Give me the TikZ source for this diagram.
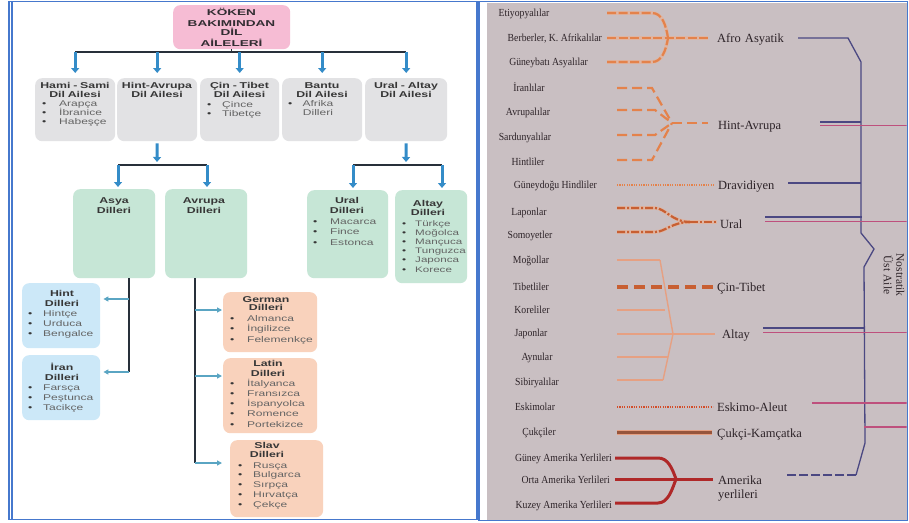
\documentclass[tikz,border=0pt]{standalone}
\usepackage{fontspec}
\setmainfont{Liberation Serif}
\newfontfamily\boxfont[FakeStretch=1.45]{Liberation Sans}
\newfontfamily\rootfont[FakeStretch=1.6]{Liberation Sans}
\newfontfamily\peoplefont[FakeStretch=0.9]{Liberation Serif}
\usetikzlibrary{arrows.meta}
\definecolor{frameblue}{RGB}{70,120,205}
\definecolor{rootpink}{RGB}{246,188,212}
\definecolor{boxgray}{RGB}{226,226,228}
\definecolor{boxgreen}{RGB}{198,230,214}
\definecolor{boxblue}{RGB}{204,232,248}
\definecolor{boxpeach}{RGB}{249,210,188}
\definecolor{arrowblue}{RGB}{52,140,200}
\definecolor{arrowteal}{RGB}{90,165,195}
\definecolor{linedark}{RGB}{40,48,58}
\definecolor{headtext}{RGB}{55,55,55}
\definecolor{rootink}{RGB}{50,45,50}
\definecolor{itemtext}{RGB}{100,100,100}
\definecolor{paper}{RGB}{201,191,194}
\definecolor{ink}{RGB}{45,35,40}
\definecolor{orng}{RGB}{228,130,75}
\definecolor{orngdark}{RGB}{200,95,50}
\definecolor{salmon}{RGB}{230,160,130}
\definecolor{glow}{RGB}{232,178,150}
\definecolor{brownline}{RGB}{150,85,60}
\definecolor{redline}{RGB}{175,40,40}
\definecolor{navyline}{RGB}{75,72,130}
\definecolor{magline}{RGB}{190,80,125}
\newlength\itmw
\setlength\itmw{17pt}
\newcommand\itm{\makebox[\itmw][l]{\textcolor{headtext}{\textbullet}}}
\tikzset{
  framestyle/.style={draw=frameblue, line width=1.1pt},
  panelbox/.style={rounded corners=7pt, inner sep=0pt, anchor=north west},
  rootbox/.style={panelbox, fill=rootpink},
  graybox/.style={panelbox, fill=boxgray},
  greenbox/.style={panelbox, fill=boxgreen},
  bluebox/.style={panelbox, fill=boxblue},
  peachbox/.style={panelbox, fill=boxpeach},
  roottxt/.style={inner sep=0pt, anchor=base, text width=112pt, align=center, text=rootink, font=\rootfont\bfseries\fontsize{8.5}{10}\selectfont},
  headtxt/.style={inner sep=0pt, anchor=base, text width=90pt, align=center, text=headtext, font=\boxfont\bfseries\fontsize{8.5}{9.5}\selectfont},
  itemtxt/.style={inner sep=0pt, anchor=base west, text width=80pt, align=left, text=itemtext, font=\boxfont\fontsize{8.3}{9.6}\selectfont},
  bigarrow/.style={line width=3pt, arrowblue, -{Triangle[width=8pt,length=5pt]}},
  sidearrow/.style={line width=2pt, arrowteal, -{Triangle[width=5pt,length=5pt]}},
  conn/.style={line width=1.3pt, linedark},
  plbl/.style={inner sep=0pt, anchor=base, text=ink, font=\peoplefont\fontsize{10.8}{12}\selectfont},
  plble/.style={plbl, anchor=base east},
  flbl/.style={inner sep=0pt, anchor=base west, text width=90pt, align=left, text=ink, font=\fontsize{12.5}{14}\selectfont},
  glowline/.style={glow, line width=3.6pt, opacity=0.7},
  afroline/.style={orng, line width=2.2pt, dash pattern=on 9pt off 2.5pt},
  hintline/.style={orng, line width=2.2pt, dash pattern=on 10pt off 5pt},
  dotline/.style={orng, line width=1.6pt, dash pattern=on 1.2pt off 1.2pt},
  uralline/.style={orngdark, line width=2.2pt, dash pattern=on 8pt off 2pt on 2pt off 2pt},
  altayline/.style={salmon, line width=1.4pt},
  cinline/.style={orngdark, line width=3.2pt, dash pattern=on 11pt off 6pt},
  eskline/.style={orngdark!80!red, line width=1.6pt, dash pattern=on 1.2pt off 1.2pt},
  cukhalo/.style={salmon, line width=5pt},
  cukline/.style={brownline, line width=3pt},
  amline/.style={redline, line width=3pt},
  navy/.style={navyline, line width=1.3pt},
  magl/.style={magline, line width=1.3pt}
}
\begin{document}
\begin{tikzpicture}[x=1pt,y=-1pt]
\useasboundingbox (0,0) rectangle (909,522);
\fill[white] (0,0) rectangle (909,522);
\fill[paper] (487,2.5) rectangle (906.5,519.5);

% ---------- left panel ----------
\node[rootbox, minimum width=117pt, minimum height=44pt] (root) at (173,5) {};
\node[roottxt] (roottext) at (231.5,16) {KÖKEN\\BAKIMINDAN\\DİL\\AİLELERİ};

\node[graybox, minimum width=80pt, minimum height=63pt] (hs) at (35,78) {};
\node[graybox, minimum width=80pt, minimum height=63pt] (ha) at (117,78) {};
\node[graybox, minimum width=79pt, minimum height=63pt] (ct) at (200,78) {};
\node[graybox, minimum width=80pt, minimum height=63pt] (ba) at (282,78) {};
\node[graybox, minimum width=82pt, minimum height=63pt] (ua) at (365,78) {};

\node[headtxt] (hsh) at (75,88) {Hami - Sami\\Dil Ailesi};
\node[headtxt] (hah) at (157,88) {Hint-Avrupa\\Dil Ailesi};
\node[headtxt] (cth) at (239.5,88) {Çin - Tibet\\Dil Ailesi};
\node[headtxt] (bah) at (322,88) {Bantu\\Dil Ailesi};
\node[headtxt] (uah) at (406,88) {Ural - Altay\\Dil Ailesi};

\node[itemtxt, font=\boxfont\fontsize{8.3}{9.3}\selectfont] (hsi) at (42,106) {\itm Arapça\\\itm İbranice\\\itm Habeşçe};
\node[itemtxt, font=\boxfont\fontsize{8.3}{9}\selectfont] (cti) at (207,107) {\setlength\itmw{15pt}\itm Çince\\\itm Tibetçe};
\node[itemtxt] (bab) at (288,106) {\itm};
\node[headtxt, text=itemtext, font=\boxfont\fontsize{8.3}{9}\selectfont] (bai) at (318,106) {Afrika\\Dilleri};

\coordinate (barL) at (75,52);
\coordinate (barR) at (406,52);
\draw[conn] (root.south) -- (root.south |- barL);
\draw[conn] (barL) -- (barR);
\foreach \b in {hs,ha,ct,ba,ua} \draw[bigarrow, shorten >=5pt] (barL -| \b.north) -- (\b.north);

% level 2
\node[greenbox, minimum width=82pt, minimum height=89pt] (asya) at (73,189) {};
\node[greenbox, minimum width=82pt, minimum height=89pt] (avr) at (165,189) {};
\node[greenbox, minimum width=81pt, minimum height=88pt] (ural) at (307,190) {};
\node[greenbox, minimum width=72pt, minimum height=93pt] (altay) at (395,190) {};

\node[headtxt, font=\boxfont\bfseries\fontsize{8.5}{10}\selectfont] (asyah) at (114,203) {Asya\\Dilleri};
\node[headtxt, font=\boxfont\bfseries\fontsize{8.5}{10}\selectfont] (avrh) at (204,203) {Avrupa\\Dilleri};
\node[headtxt, font=\boxfont\bfseries\fontsize{8.5}{10}\selectfont] (uralh) at (347,203) {Ural\\Dilleri};
\node[headtxt, font=\boxfont\bfseries\fontsize{8.5}{9}\selectfont] (altayh) at (428,206) {Altay\\Dilleri};

\node[itemtxt, font=\boxfont\fontsize{8.3}{10.5}\selectfont] (urali) at (313,224) {\itm Macarca\\\itm Fince\\\itm Estonca};
\node[itemtxt, font=\boxfont\fontsize{8}{9.2}\selectfont] (altayi) at (402,226) {\setlength\itmw{13pt}\itm Türkçe\\\itm Moğolca\\\itm Mançuca\\\itm Tunguzca\\\itm Japonca\\\itm Korece};

\coordinate (hj) at (157,165);
\coordinate (hjL) at (118,165);
\coordinate (hjR) at (207,165);
\draw[bigarrow, shorten >=3pt, shorten <=2pt] (ha.south) -- (hj);
\draw[conn] (hjL) -- (hjR);
\draw[bigarrow, shorten >=2pt] (hjL) -- (hjL |- asya.north);
\draw[bigarrow, shorten >=2pt] (hjR) -- (hjR |- avr.north);

\coordinate (uj) at (406,165);
\coordinate (ujL) at (353,165);
\coordinate (ujR) at (442,165);
\draw[bigarrow, shorten >=3pt, shorten <=2pt] (ua.south) -- (uj);
\draw[conn] (ujL) -- (ujR);
\draw[bigarrow, shorten >=2pt] (ujL) -- (ujL |- ural.north);
\draw[bigarrow, shorten >=2pt] (ujR) -- (ujR |- altay.north);

% level 3 asia
\node[bluebox, minimum width=78pt, minimum height=65pt] (hint) at (22,283) {};
\node[bluebox, minimum width=78pt, minimum height=65pt] (iran) at (22,355) {};
\node[headtxt, font=\boxfont\bfseries\fontsize{8.5}{10}\selectfont] (hinth) at (62,296) {Hint\\Dilleri};
\node[headtxt, font=\boxfont\bfseries\fontsize{8.5}{10}\selectfont] (iranh) at (62,370) {İran\\Dilleri};
\node[itemtxt, font=\boxfont\fontsize{8.3}{10}\selectfont] (hinti) at (28,316) {\setlength\itmw{15pt}\itm Hintçe\\\itm Urduca\\\itm Bengalce};
\node[itemtxt, font=\boxfont\fontsize{8.3}{10}\selectfont] (irani) at (28,390) {\setlength\itmw{15pt}\itm Farsça\\\itm Peştunca\\\itm Tacikçe};

\coordinate (asv) at (129,372);
\coordinate (hia) at (129,299);
\draw[conn] (asv |- asya.south) -- (asv);
\draw[sidearrow, shorten >=3pt] (hia) -- (hia -| hint.east);
\draw[sidearrow, shorten >=3pt] (asv) -- (asv -| iran.east);

% level 3 europe
\node[peachbox, minimum width=94pt, minimum height=60pt] (germ) at (223,292) {};
\node[peachbox, minimum width=94pt, minimum height=75pt] (latin) at (223,358) {};
\node[peachbox, minimum width=93pt, minimum height=77pt] (slav) at (230,440) {};
\node[headtxt, font=\boxfont\bfseries\fontsize{8.5}{8.8}\selectfont] (germh) at (266,302) {German\\Dilleri};
\node[headtxt, font=\boxfont\bfseries\fontsize{8.5}{10}\selectfont] (latinh) at (268,366) {Latin\\Dilleri};
\node[headtxt, font=\boxfont\bfseries\fontsize{8.5}{9}\selectfont] (slavh) at (267,448) {Slav\\Dilleri};
\node[itemtxt, font=\boxfont\fontsize{8.3}{10.5}\selectfont] (germi) at (230,321) {\itm Almanca\\\itm İngilizce\\\itm Felemenkçe};
\node[itemtxt, font=\boxfont\fontsize{8.3}{10.25}\selectfont] (latini) at (230,386) {\itm İtalyanca\\\itm Fransızca\\\itm İspanyolca\\\itm Romence\\\itm Portekizce};
\node[itemtxt, font=\boxfont\fontsize{8.3}{9.75}\selectfont] (slavi) at (238,468) {\setlength\itmw{15pt}\itm Rusça\\\itm Bulgarca\\\itm Sırpça\\\itm Hırvatça\\\itm Çekçe};

\coordinate (avv) at (195,463);
\coordinate (gea) at (195,310);
\coordinate (laa) at (195,376);
\draw[conn] (avv |- avr.south) -- (avv);
\draw[sidearrow, shorten >=1pt] (gea) -- (gea -| germ.west);
\draw[sidearrow, shorten >=1pt] (laa) -- (laa -| latin.west);
\draw[sidearrow, shorten >=8pt] (avv) -- (avv -| slav.west);

% ---------- right panel ----------
\begin{scope}
\clip (487,2.5) rectangle (906.5,519.5);
\node[plbl] (p1) at (524,16.5) {Etiyopyalılar};
\node[plble] (p2) at (602,41.5) {Berberler, K. Afrikalılar};
\node[plble] (p3) at (588,65.5) {Güneybatı Asyalılar};
\node[plbl] (p4) at (529,91.5) {İranlılar};
\node[plbl] (p5) at (528,115.5) {Avrupalılar};
\node[plbl] (p6) at (525,140.5) {Sardunyalılar};
\node[plbl] (p7) at (528,165.5) {Hintliler};
\node[plble] (p8) at (597,188.5) {Güneydoğu Hindliler};
\node[plbl] (p9) at (529,215.5) {Laponlar};
\node[plbl] (p10) at (530,238.5) {Somoyetler};
\node[plbl] (p11) at (531,263.5) {Moğollar};
\node[plbl] (p12) at (531,290.5) {Tibetliler};
\node[plbl] (p13) at (532,313.5) {Koreliler};
\node[plbl] (p14) at (531,336.5) {Japonlar};
\node[plbl] (p15) at (537,360.5) {Aynular};
\node[plbl] (p16) at (537,385.5) {Sibiryalılar};
\node[plbl] (p17) at (535,410.5) {Eskimolar};
\node[plbl] (p18) at (539,435.5) {Çukçiler};
\node[plble] (p19) at (612,461.5) {Güney Amerika Yerlileri};
\node[plble] (p20) at (610,483.5) {Orta Amerika Yerlileri};
\node[plble] (p21) at (612,508.5) {Kuzey Amerika Yerlileri};

\node[flbl] (f1) at (717,42) {Afro Asyatik};
\node[flbl] (f2) at (718,129) {Hint-Avrupa};
\node[flbl] (f3) at (718,189) {Dravidiyen};
\node[flbl] (f4) at (720,228) {Ural};
\node[flbl] (f5) at (717,291) {Çin-Tibet};
\node[flbl] (f6) at (722,338) {Altay};
\node[flbl] (f7) at (717,411) {Eskimo-Aleut};
\node[flbl] (f8) at (717,437) {Çukçi-Kamçatka};
\node[flbl] (f9) at (718,484) {Amerika\\yerlileri};
\node[inner sep=0pt, rotate=-90, align=center, text=ink, font=\fontsize{11.5}{12.5}\selectfont] (nost) at (894,275) {Nostratik\\Üst Aile};

% Afro-Asyatik
\draw[glowline] (607,13) -- (652,13) .. controls (662,13) and (666,25) .. (668,38);
\draw[glowline] (607,62) -- (652,62) .. controls (662,62) and (666,50) .. (668,38);
\draw[glowline] (607,38) -- (708,38);
\draw[afroline] (607,13) -- (652,13) .. controls (662,13) and (666,25) .. (668,38);
\draw[afroline] (607,62) -- (652,62) .. controls (662,62) and (666,50) .. (668,38);
\draw[afroline] (607,38) -- (708,38);
% Hint-Avrupa
\draw[hintline] (617,88) -- (652,88) -- (672,123);
\draw[hintline] (617,110) -- (655,110) -- (672,123);
\draw[hintline] (617,135) -- (655,135) -- (672,123);
\draw[hintline] (617,160) -- (652,160) -- (672,123);
\draw[hintline] (672,123) -- (708,123);
% Dravidiyen
\draw[dotline] (617,185) -- (715,185);
% Ural
\draw[glowline] (617,208) -- (655,208) .. controls (665,208) and (672,222) .. (690,222);
\draw[glowline] (617,232) -- (655,232) .. controls (665,232) and (672,222) .. (690,222);
\draw[glowline] (690,222) -- (717,222);
\draw[uralline] (617,208) -- (655,208) .. controls (665,208) and (672,222) .. (690,222);
\draw[uralline] (617,232) -- (655,232) .. controls (665,232) and (672,222) .. (690,222);
\draw[uralline] (690,222) -- (717,222);
% Altay
\draw[altayline] (617,260) -- (660,260);
\draw[altayline] (617,310) -- (665,310);
\draw[altayline] (617,334) -- (715,334);
\draw[altayline] (617,357) -- (668,357);
\draw[altayline] (617,380) -- (663,380);
\draw[altayline] (660,260) -- (673,334) -- (663,380);
% Cin-Tibet
\draw[cinline] (617,287) -- (715,287);
% Eskimo
\draw[eskline] (617,407) -- (713,407);
% Cukci
\draw[cukhalo] (617,432) -- (712,432);
\draw[cukline] (617,432) -- (712,432);
% Amerika
\draw[amline] (615,458) -- (658,458) .. controls (668,458) and (672,468) .. (676,479);
\draw[amline] (615,503) -- (658,503) .. controls (668,503) and (672,490) .. (676,479);
\draw[amline] (615,479) -- (713,479);

% Nostratik tree
\draw[navy] (798,38) -- (848,38) -- (861,62) -- (861,233) -- (874,249) -- (864,267) -- (865,443) -- (856,475);
\draw[navy, dash pattern=on 9pt off 3pt] (856,475) -- (785,475);
\draw[navy] (820,122) -- (861,122);
\draw[magl] (820,125.5) -- (907,125.5);
\draw[navy] (788,183) -- (861,183);
\draw[navy] (765,217) -- (862,217);
\draw[magl] (765,221.5) -- (907,221.5);
\draw[navy] (763,328) -- (864,328);
\draw[magl] (763,332.5) -- (907,332.5);
\draw[magl] (812,403) -- (907,403);
\draw[magl] (864,427) -- (907,427);
\end{scope}

% frames
\draw[framestyle] (9,1.5) rectangle (477,519.5);
\draw[framestyle] (12,1.5) -- (12,519.5);
\draw[framestyle] (479,1.5) rectangle (907.5,520.5);
\end{tikzpicture}
\end{document}
